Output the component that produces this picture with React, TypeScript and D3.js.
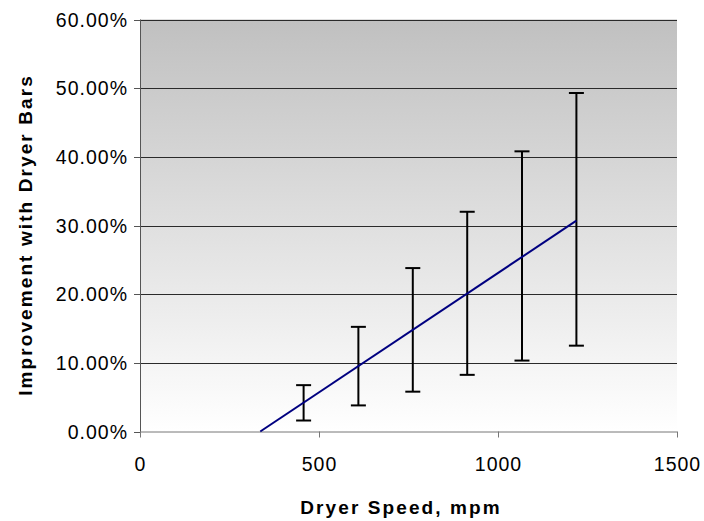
import React from "react";
import * as d3 from "d3";

// Dryer speeds (mpm) measured, with low/high improvement range
const speeds = [457, 610, 762, 914, 1067, 1219];
const lowValues = [0.016, 0.038, 0.058, 0.0825, 0.1033, 0.125];
const highValues = [0.0675, 0.1524, 0.238, 0.32, 0.408, 0.493];

// Trend line endpoints
const trendSpeeds = [336, 1219];
const trendValues = [0, 0.307];

const xTicks = [0, 500, 1000, 1500];
const yTicks = [0, 0.1, 0.2, 0.3, 0.4, 0.5, 0.6];

const W = 704;
const H = 521;
const left = 140;
const right = 677;
const top = 19.5;
const bottom = 431.5;

const FONT = "'Liberation Sans', Arial, sans-serif";

export default function App() {
  const x = d3.scaleLinear().domain([0, 1500]).range([left, right]);
  const y = d3.scaleLinear().domain([0, 0.6]).range([bottom, top]);
  const fmt = d3.format(".2%");

  const trend = d3
    .line<number>()
    .x((_, i) => x(trendSpeeds[i]))
    .y((d) => y(d))(trendValues) as string;

  const cap = 7.5;

  return (
    <svg
      width={W}
      height={H}
      style={{ position: "absolute", left: 0, top: 0, background: "#fff" }}
    >
      <defs>
        <linearGradient id="plotBg" x1="0" y1="0" x2="0" y2="1">
          <stop offset="0" stopColor="#c0c0c0" />
          <stop offset="1" stopColor="#ffffff" />
        </linearGradient>
      </defs>
      <rect
        x={left}
        y={top}
        width={right - left}
        height={bottom - top}
        fill="url(#plotBg)"
      />
      {/* horizontal gridlines */}
      {yTicks.slice(1).map((t) => (
        <line
          key={t}
          x1={left}
          x2={right}
          y1={Math.round(y(t)) + 0.5}
          y2={Math.round(y(t)) + 0.5}
          stroke="#2a2a2a"
          strokeWidth={1}
        />
      ))}
      {/* axes */}
      <line x1={left + 0.5} x2={left + 0.5} y1={top} y2={bottom + 0.5} stroke="#555" />
      <line x1={left} x2={right} y1={bottom + 0.5} y2={bottom + 0.5} stroke="#777" />
      {yTicks.map((t) => (
        <g key={t}>
          <line
            x1={left - 6}
            x2={left}
            y1={Math.round(y(t)) + 0.5}
            y2={Math.round(y(t)) + 0.5}
            stroke="#555"
          />
          <text
            x={128}
            y={y(t) + 7}
            textAnchor="end"
            fontFamily={FONT}
            fontSize={19.5}
            letterSpacing={1}
            fill="#000"
          >
            {fmt(t)}
          </text>
        </g>
      ))}
      {xTicks.map((t) => (
        <g key={t}>
          <line
            x1={Math.round(x(t)) + 0.5}
            x2={Math.round(x(t)) + 0.5}
            y1={bottom}
            y2={bottom + 6}
            stroke="#777"
          />
          <text
            x={x(t) + 0.5}
            y={471}
            textAnchor="middle"
            fontFamily={FONT}
            fontSize={19.5}
            letterSpacing={1}
            fill="#000"
          >
            {t}
          </text>
        </g>
      ))}
      {/* error bars */}
      {speeds.map((s, i) => {
        const cx = x(s);
        return (
          <g key={s} stroke="#000" strokeWidth={2}>
            <line x1={cx} x2={cx} y1={y(lowValues[i])} y2={y(highValues[i])} />
            <line x1={cx - cap} x2={cx + cap} y1={y(lowValues[i])} y2={y(lowValues[i])} />
            <line x1={cx - cap} x2={cx + cap} y1={y(highValues[i])} y2={y(highValues[i])} />
          </g>
        );
      })}
      <path d={trend} fill="none" stroke="#000080" strokeWidth={2} />
      <text
        x={401}
        y={514}
        textAnchor="middle"
        fontFamily={FONT}
        fontSize={19}
        fontWeight="bold"
        letterSpacing={2.1}
        fill="#000"
      >
        Dryer Speed, mpm
      </text>
      <text
        transform={`translate(32, 235) rotate(-90)`}
        textAnchor="middle"
        fontFamily={FONT}
        fontSize={19}
        fontWeight="bold"
        letterSpacing={2.1}
        fill="#000"
      >
        Improvement with Dryer Bars
      </text>
    </svg>
  );
}
